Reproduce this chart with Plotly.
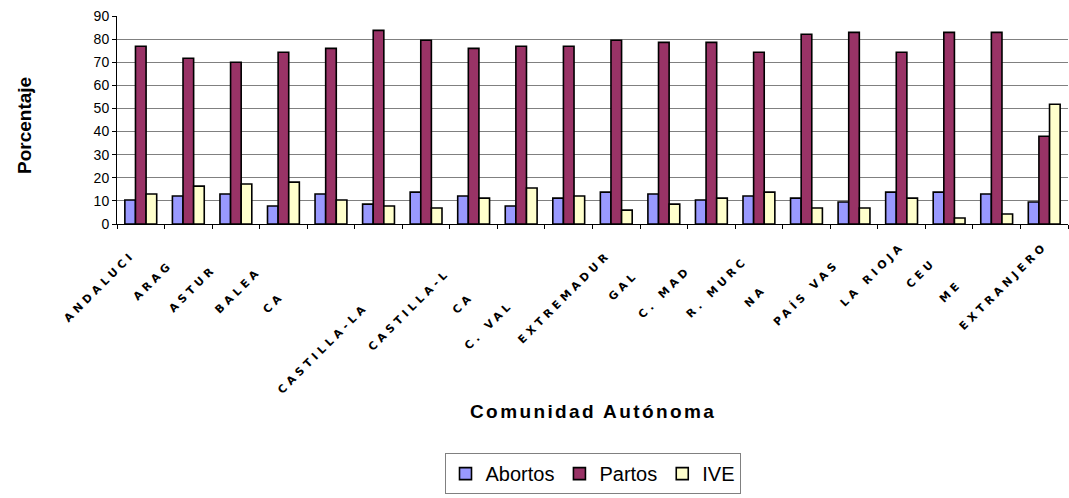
import plotly.graph_objects as go

regions = ["ANDALUCIA", "ARAGON", "ASTURIAS", "BALEARES", "CANARIAS", "CANTABRIA",
           "CASTILLA-LA MANCHA", "CASTILLA-LEON", "CATALUÑA", "C. VALENCIANA",
           "EXTREMADURA", "GALICIA", "C. MADRID", "R. MURCIA", "NAVARRA",
           "PAÍS VASCO", "LA RIOJA", "CEUTA", "MELILLA", "EXTRANJERO"]
# part of each label that is visible in the reference (the rest is clipped)
labels_visible = ["ANDALUCI", "ARAG", "ASTUR", "BALEA", "CA", "",
                  "CASTILLA-LA", "CASTILLA-L", "CA", "C. VAL",
                  "EXTREMADUR", "GAL", "C. MAD", "R. MURC", "NA",
                  "PAÍS VAS", "LA RIOJA", "CEU", "ME", "EXTRANJERO"]

abortos = [10.4, 12.1, 13.0, 7.8, 13.0, 8.6, 13.8, 12.1, 7.8, 11.2,
           13.8, 13.0, 10.4, 12.1, 11.2, 9.5, 13.8, 13.8, 13.0, 9.5]
partos = [76.9, 71.7, 70.0, 74.3, 76.0, 83.8, 79.5, 76.0, 76.9, 76.9,
          79.5, 78.6, 78.6, 74.3, 82.1, 82.9, 74.3, 82.9, 82.9, 38.0]
ive = [13.0, 16.4, 17.3, 18.1, 10.4, 7.8, 6.9, 11.2, 15.6, 12.1,
       6.0, 8.6, 11.2, 13.8, 6.9, 6.9, 11.2, 2.6, 4.3, 51.8]

series_names = ["Abortos", "Partos", "IVE"]
series_colors = ["#9999FF", "#993366", "#FFFFCC"]

LS = "letter-spacing:4px"
ticktext = []
for full, vis in zip(regions, labels_visible):
    hidden = full[len(vis):]
    t = ""
    if vis:
        t += f'<span style="{LS}">{vis}</span>'
    if hidden:
        t += f'<span style="{LS};color:rgba(255,255,255,0)">{hidden}</span>'
    ticktext.append(t)

fig = go.Figure()
for name, vals, col in zip(series_names, [abortos, partos, ive], series_colors):
    fig.add_trace(go.Bar(
        x=regions, y=vals, name=name,
        marker=dict(color=col, line=dict(color="#000000", width=1.6)),
    ))

W, H = 1069, 498
ml, mr, mt, mb = 117, 1, 16, 274
fig.update_layout(
    width=W, height=H,
    margin=dict(l=ml, r=mr, t=mt, b=mb, autoexpand=False),
    paper_bgcolor="white", plot_bgcolor="white",
    barmode="group", bargap=0.33, bargroupgap=0.0,
    font=dict(family="Liberation Sans, Arial, sans-serif", color="#000000"),
    showlegend=True,
    legend=dict(
        orientation="h", x=0.5, y=-1.2, xanchor="center", yanchor="middle",
        bordercolor="#808080", borderwidth=1,
        font=dict(size=20, family="Liberation Sans, Arial, sans-serif"),
        itemwidth=30, traceorder="normal", itemclick=False,
        tracegroupgap=0,
    ),
    xaxis=dict(
        type="category", tickvals=regions, ticktext=ticktext,
        tickangle=-45,
        tickfont=dict(size=11, weight="bold", family="DejaVu Sans, sans-serif"),
        showline=True, linecolor="#000000", linewidth=1,
        ticks="outside", tickson="boundaries", ticklen=4, tickcolor="#000000",
        showgrid=False, automargin=False, ticklabelstandoff=10,
    ),
    yaxis=dict(
        range=[0, 90], dtick=10, tickfont=dict(size=14),
        showline=True, linecolor="#000000", linewidth=1,
        ticks="outside", ticklen=4, tickcolor="#000000",
        showgrid=True, gridcolor="#808080", gridwidth=1,
        zeroline=False, automargin=False,
    ),
    annotations=[
        dict(text="<b>Porcentaje</b>", textangle=-90, xref="paper", yref="paper",
             x=(24 - ml) / (W - ml - mr), y=(H - mb - 126) / (H - mt - mb),
             xanchor="center", yanchor="middle", showarrow=False,
             font=dict(size=19)),
        dict(text='<b><span style="letter-spacing:2.4px">Comunidad Autónoma</span></b>',
             xref="paper", yref="paper",
             x=0.5, y=(H - mb - 411) / (H - mt - mb),
             xanchor="center", yanchor="middle", showarrow=False,
             font=dict(size=19)),
    ],
)

fig.write_html("out.html")
